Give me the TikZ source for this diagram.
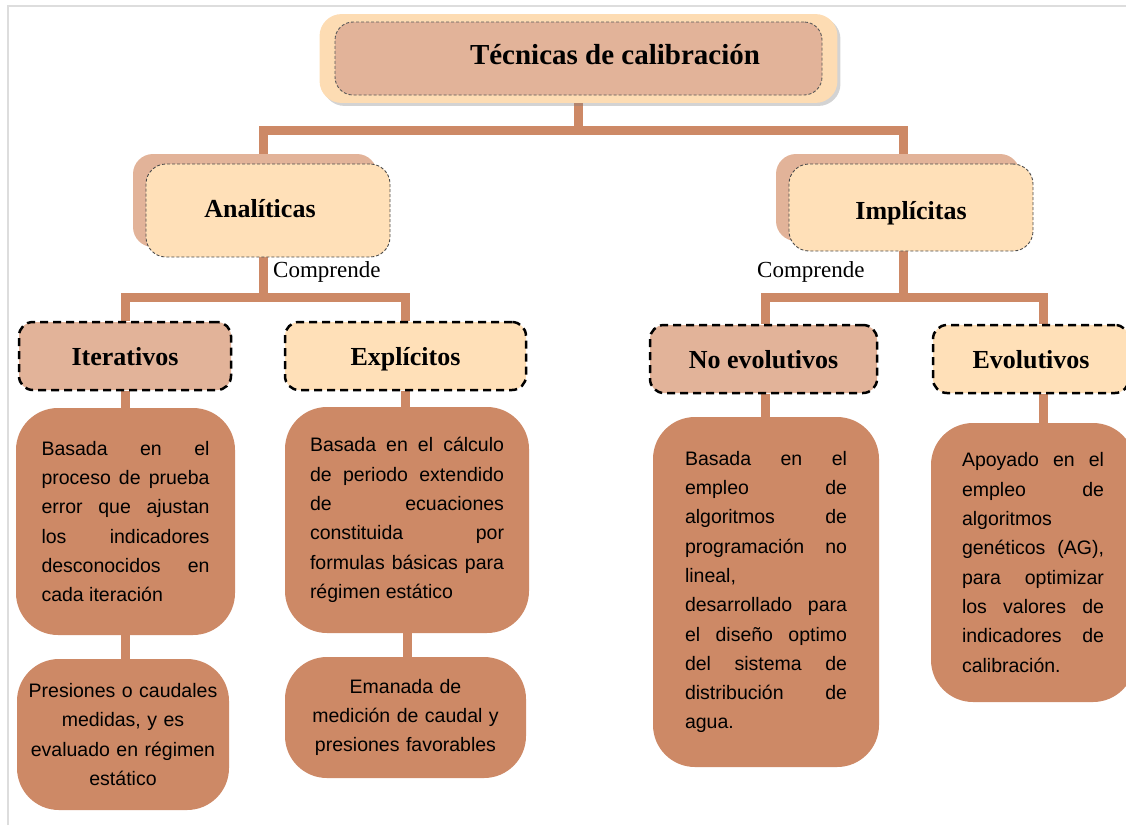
\documentclass[tikz,border=0pt]{standalone}
\usepackage{fontspec}
\setmainfont{Liberation Serif}
\newfontfamily\descfont{Liberation Sans}
\usetikzlibrary{shadows,backgrounds,fit}

\definecolor{terra}{HTML}{CD8966}
\definecolor{rosy}{HTML}{E2B399}
\definecolor{peach}{HTML}{FFE0B8}
\definecolor{glow}{HTML}{FDDCB3}
\definecolor{pageline}{HTML}{DDDDDD}

\tolerance=10000
\hyphenpenalty=10000

\tikzset{
  link/.style={draw=terra, line width=9pt, line join=miter},
  titlebox/.style={draw=black!65, dash pattern=on 3pt off 2pt, line width=0.9pt, fill=rosy,
    rounded corners=18pt, minimum width=487pt, minimum height=73pt, text height=20pt, text depth=8pt,
    font=\fontsize{29}{34}\selectfont\bfseries},
  titleglow/.style={fill=glow, rounded corners=22pt, inner xsep=15pt, inner ysep=7.5pt,
    drop shadow={shadow xshift=3pt, shadow yshift=-3pt, opacity=0.35}},
  headbox/.style={draw=black!70, dash pattern=on 3pt off 2pt, line width=0.9pt, fill=peach,
    rounded corners=20pt, minimum width=244pt, text depth=6pt, font=\fontsize{26}{30}\selectfont\bfseries,
    general shadow={fill=rosy, shadow xshift=-13pt, shadow yshift=10pt}},
  subbox/.style={draw=black, line width=2.5pt, dash pattern=on 8pt off 5pt,
    rounded corners=14pt, minimum height=68pt, text height=24pt, text depth=6pt,
    font=\fontsize{26}{30}\selectfont\bfseries},
  descbox/.style={fill=terra, rounded corners=42pt, inner sep=0pt, align=justify,
    font=\descfont\fontsize{19.5}{29.3}\selectfont},
  note/.style={anchor=west, inner sep=0pt, font=\fontsize{23}{27}\selectfont}
}

\begin{document}
\begin{tikzpicture}[x=1pt, y=-1pt]
\useasboundingbox (0,0) rectangle (1126,825);
\draw[pageline, line width=2pt] (8,825) -- (8,6) -- (1126,6);

% top level
\node[titlebox] (title) at (578.5,58.5) {\hspace*{73pt}Técnicas de calibración};

% first split
\node[headbox, minimum height=93pt, text height=19.5pt] (ana) at (268,210.5) {\hspace*{-16pt}Analíticas};
\node[headbox, minimum height=87pt, text height=29pt] (imp) at (911,207.5) {Implícitas};
\node[note] (anacomp) at (273,272) {Comprende};
\node[note] (impcomp) at (757,272) {Comprende};

% second split
\node[subbox, fill=rosy, minimum width=212pt] (itr) at (125,356) {Iterativos};
\node[subbox, fill=peach, minimum width=241pt] (exp) at (405.5,356) {Explícitos};
\node[subbox, fill=rosy, minimum width=227pt] (noevo) at (763.5,359) {No evolutivos};
\node[subbox, fill=peach, minimum width=196pt] (evo) at (1031,359) {Evolutivos};

% descriptions
\node[descbox, minimum width=219pt, minimum height=227pt, text width=168pt] (itrd) at (125.5,521.5)
  {Basada en el\linebreak proceso de prueba\linebreak error que ajustan\linebreak los indicadores\linebreak desconocidos en\linebreak cada iteración};
\node[descbox, align=center, minimum width=212pt, minimum height=151pt, text width=205pt] (itrn) at (123,734.5)
  {Presiones o caudales\\ medidas, y es\\ evaluado en régimen\\ estático};
\node[descbox, minimum width=244pt, minimum height=226pt, text width=194pt] (expd) at (407,520)
  {Basada en el cálculo\linebreak de periodo extendido\linebreak de ecuaciones\linebreak constituida por\linebreak formulas básicas para\linebreak régimen estático};
\node[descbox, align=center, minimum width=241pt, minimum height=121pt, text width=220pt] (expn) at (405.5,717.5)
  {Emanada de\\ medición de caudal y\\ presiones favorables};
\node[descbox, minimum width=226pt, minimum height=350pt, text width=162pt] (noevod) at (766,592)
  {Basada en el\linebreak empleo de\linebreak algoritmos de\linebreak programación no\linebreak lineal,\linebreak desarrollado para\linebreak el diseño optimo\linebreak del sistema de\linebreak distribución de\linebreak agua.};
\node[descbox, minimum width=204pt, minimum height=279pt, text width=142pt] (evod) at (1033,562.5)
  {Apoyado en el\linebreak empleo de\linebreak algoritmos\linebreak genéticos (AG),\linebreak para optimizar\linebreak los valores de\linebreak indicadores de\linebreak calibración.};

\coordinate (topbar) at (0,130);
\coordinate (anabar) at (0,297);
\coordinate (impbar) at (0,297);

\begin{scope}[on background layer]
  \draw[link] (title.south) -- (title.south |- topbar);
  \draw[link] ([xshift=-5pt]ana.north) |- ([xshift=-8pt]imp.north |- topbar) -- ([xshift=-8pt]imp.north);
  \draw[link] ([xshift=-5pt]ana.south) -- ([xshift=-5pt]ana.south |- anabar);
  \draw[link] (itr.north) |- (exp.north |- anabar) -- (exp.north);
  \draw[link] ([xshift=-8pt]imp.south) -- ([xshift=-8pt]imp.south |- impbar);
  \draw[link] ([xshift=1.5pt]noevo.north) |- ([xshift=12pt]evo.north |- impbar) -- ([xshift=12pt]evo.north);
  \draw[link] (itr.south) -- (itr.south |- itrd.north);
  \draw[link] (itrd.south) -- (itrd.south |- itrn.north);
  \draw[link] (exp.south) -- (exp.south |- expd.north);
  \draw[link] (expd.south) -- (expd.south |- expn.north);
  \draw[link] ([xshift=1.5pt]noevo.south) -- ([xshift=1.5pt]noevo.south |- noevod.north);
  \draw[link] ([xshift=12pt]evo.south) -- ([xshift=12pt]evo.south |- evod.north);
  \node[titleglow, fit=(title)] (titlebg) {};
\end{scope}
\end{tikzpicture}
\end{document}
